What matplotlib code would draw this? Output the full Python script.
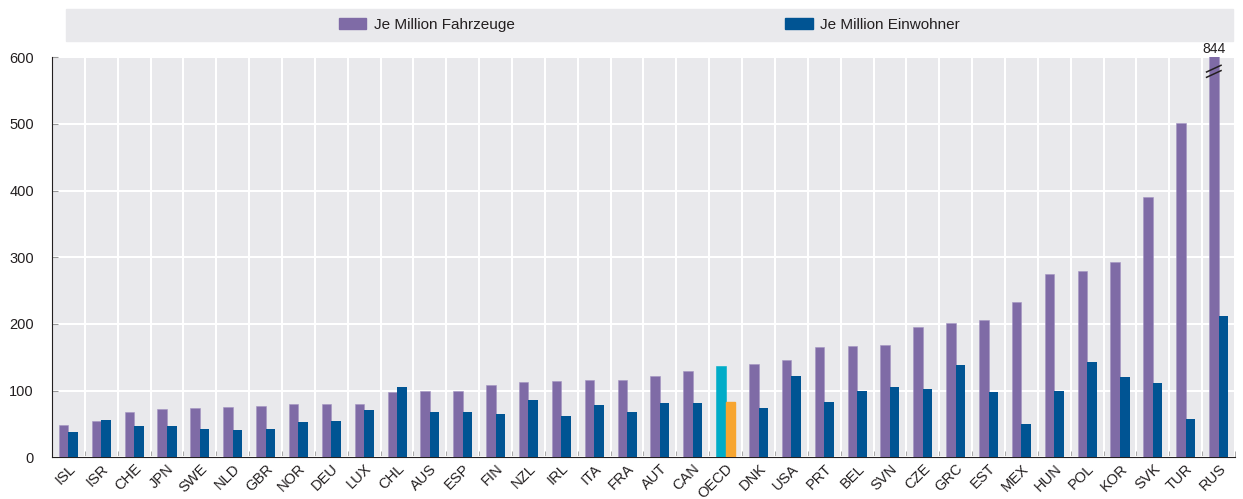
import numpy as np
import matplotlib
matplotlib.use("Agg")
import matplotlib.pyplot as plt
from matplotlib.patches import Rectangle, Patch

plt.rcParams['font.family'] = ['Liberation Sans', 'DejaVu Sans']

countries = ["ISL", "ISR", "CHE", "JPN", "SWE", "NLD", "GBR", "NOR", "DEU", "LUX",
             "CHL", "AUS", "ESP", "FIN", "NZL", "IRL", "ITA", "FRA", "AUT", "CAN",
             "OECD", "DNK", "USA", "PRT", "BEL", "SVN", "CZE", "GRC", "EST", "MEX",
             "HUN", "POL", "KOR", "SVK", "TUR", "RUS"]
fahrzeuge = [48, 54.5, 67.5, 72, 73.5, 76, 77.5, 79.5, 80, 80.5,
             98.5, 99, 99.5, 108, 112.5, 114, 115.5, 116, 122, 129.5,
             137, 140.5, 145.5, 166, 167.5, 169, 195, 201, 205.5, 232.5,
             274.5, 279, 293.5, 390.5, 502, 844]
einwohner = [37.5, 55.5, 46.5, 46.5, 42.5, 40.5, 42.5, 52.5, 54, 71.5,
             105, 68, 67.5, 64.5, 85.5, 62, 78.5, 68.5, 81, 81.5,
             82.5, 73.5, 122.5, 83, 99.5, 105, 103, 138, 97.5, 50,
             99, 142.5, 120.5, 112, 57, 211.5]
labels = ["Je Million Fahrzeuge", "Je Million Einwohner"]

purple = "#7F6BA6"
blue = "#005493"
cyan = "#00ACC8"
orange = "#F7A530"
bg = "#E9E9EC"
txt = "#231F20"

W, H = 1243, 499
fig = plt.figure(figsize=(W / 100, H / 100), dpi=100)
ax = fig.add_axes([52 / W, 41.7 / H, (1235 - 52) / W, 400 / H])
ax.set_facecolor(bg)

n = len(countries)
x = np.arange(n)
w = 0.29
b1 = ax.bar(x - w / 2, fahrzeuge, w, color=purple, edgecolor="#A395C2", linewidth=0.4, zorder=3)
b2 = ax.bar(x + w / 2, einwohner, w, color=blue, zorder=3)
i_oecd = countries.index("OECD")
b1[i_oecd].set_color(cyan)
b2[i_oecd].set_color(orange)

ymax = 600
ax.set_ylim(0, ymax)
ax.set_xlim(-0.5, n - 0.5)
ax.set_yticks(np.arange(0, 601, 100))
ax.set_xticks(x)
ax.set_xticklabels(countries, rotation=45, ha="right", rotation_mode="anchor", fontsize=10.5, color=txt)
ax.set_xticks(np.arange(-0.5, n), minor=True)
ax.tick_params(axis="x", which="major", length=0, pad=3)
ax.tick_params(axis="x", which="minor", length=4, direction="in", color="#999999")
ax.tick_params(axis="y", length=4, direction="in", color="#999999", labelsize=10.5, labelcolor=txt, pad=13)
ax.grid(True, which="minor", axis="x", color="white", lw=1.5, zorder=1)
ax.grid(True, which="major", axis="y", color="white", lw=1.5, zorder=1)
ax.grid(False, which="major", axis="x")
for s in ["top", "right"]:
    ax.spines[s].set_visible(False)
ax.spines["left"].set_color(txt)
ax.spines["bottom"].set_color(txt)
ax.spines["left"].set_linewidth(0.8)
ax.spines["bottom"].set_linewidth(0.8)

# truncated RUS bar: value label and break marks
i_rus = countries.index("RUS")
xc = i_rus - w / 2
ax.text(xc, ymax + 2, f"{fahrzeuge[i_rus]:.0f}", ha="center", va="bottom", fontsize=10, color=txt)
for yb in (575, 583):
    ax.plot([xc - 0.22, xc + 0.22], [yb - 5, yb + 5], color=txt, lw=1.1, zorder=5, clip_on=False)

# legend band
fig.patches.append(Rectangle((66 / W, 1 - 41 / H), (1233 - 66) / W, 32 / H,
                             transform=fig.transFigure, color=bg, zorder=0))
handles = [Patch(color=purple), Patch(color=blue)]
fig.legend(handles, labels, loc="center", bbox_to_anchor=(649.5 / W, 1 - 25 / H), ncol=2,
           frameon=False, columnspacing=17.7, handlelength=1.8, handleheight=0.7,
           handletextpad=0.5, fontsize=11, labelcolor=txt)

fig.savefig("out.png", dpi=100)
